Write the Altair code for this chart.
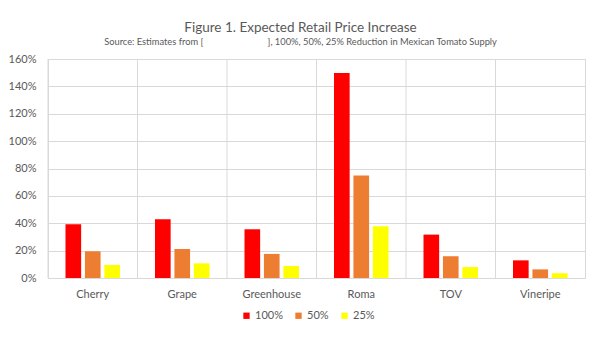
import altair as alt
import pandas as pd

categories = ["Cherry", "Grape", "Greenhouse", "Roma", "TOV", "Vineripe"]
series = ["100%", "50%", "25%"]
v100 = [0.393, 0.430, 0.356, 1.497, 0.317, 0.129]
v50 = [0.195, 0.212, 0.176, 0.748, 0.159, 0.063]
v25 = [0.095, 0.107, 0.088, 0.378, 0.080, 0.034]
colors = ["#FF0000", "#ED7D31", "#FFFF00"]
y_ticks = [0, 0.2, 0.4, 0.6, 0.8, 1.0, 1.2, 1.4, 1.6]

rows = []
for i, c in enumerate(categories):
    for s, vals in zip(series, [v100, v50, v25]):
        rows.append({"category": c, "series": s, "value": vals[i]})
df = pd.DataFrame(rows)
cat_df = pd.DataFrame({"category": categories})

FONT = "Lato"
GRAY = "#595959"
GRID = "#D9D9D9"

xscale = alt.Scale(domain=categories, paddingInner=0, paddingOuter=0)
xaxis = alt.Axis(
    title=None, ticks=False, domain=False, grid=False, labelAngle=0,
    labelFont=FONT, labelFontSize=11, labelColor=GRAY, labelPadding=10,
)

grid = alt.Chart(cat_df).mark_rule(color=GRID, strokeWidth=1).encode(
    x=alt.X("category:N", scale=xscale, sort=categories, bandPosition=0, axis=xaxis),
    y=alt.value(0),
    y2=alt.value(219),
)

bars = alt.Chart(df).mark_bar().encode(
    x=alt.X("category:N", scale=xscale, sort=categories, axis=xaxis),
    xOffset=alt.XOffset(
        "series:N", sort=series,
        scale=alt.Scale(domain=series, paddingInner=0.195, paddingOuter=0.9),
    ),
    y=alt.Y(
        "value:Q",
        scale=alt.Scale(domain=[0, 1.6], nice=False),
        axis=alt.Axis(
            title=None, values=y_ticks, format=".0%", ticks=False, domain=False,
            gridColor=GRID, labelFont=FONT, labelFontSize=11, labelColor=GRAY,
            labelPadding=12,
        ),
    ),
    color=alt.Color(
        "series:N",
        sort=series,
        scale=alt.Scale(domain=series, range=colors),
        legend=alt.Legend(
            title=None, orient="none", direction="horizontal",
            legendX=193, legendY=251,
            symbolType="square", symbolSize=40, symbolStrokeWidth=0,
            labelFont=FONT, labelFontSize=11, labelColor=GRAY,
            columnPadding=10, labelOffset=3,
        ),
    ),
)

gap = "\u00a0" * 27
chart = alt.layer(grid, bars).properties(
    width=537,
    height=219,
    autosize=alt.AutoSizeParams(type="none"),
    padding={"left": 48, "top": 59, "right": 15, "bottom": 77},
    title=alt.TitleParams(
        text="Figure 1. Expected Retail Price Increase",
        subtitle="Source: Estimates from [" + gap + "], 100%, 50%, 25% Reduction in Mexican Tomato Supply",
        anchor="middle", dx=-16, offset=6,
        font=FONT, fontSize=13.5, fontWeight="normal", color=GRAY,
        subtitleFont=FONT, subtitleFontSize=9.3, subtitleColor=GRAY,
        subtitlePadding=3,
    ),
).configure_view(stroke=GRID)

chart.save("out.html", embed_options={"renderer": "svg", "actions": False})
